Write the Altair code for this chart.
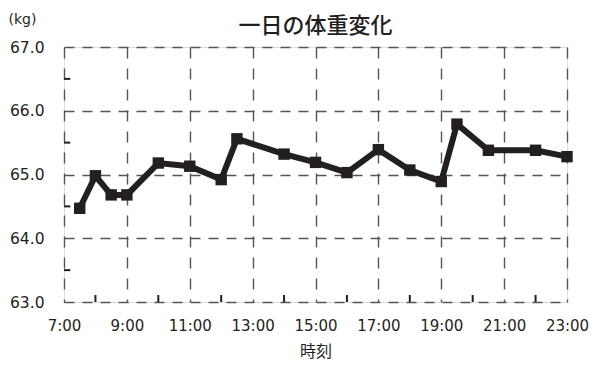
import altair as alt
import pandas as pd

# ---- data ----
times = ["7:30", "8:00", "8:30", "9:00", "10:00", "11:00", "12:00", "12:30",
         "14:00", "15:00", "16:00", "17:00", "18:00", "19:00", "19:30",
         "20:30", "22:00", "23:00"]
weights = [64.47, 64.98, 64.68, 64.68, 65.18, 65.13, 64.92, 65.56,
           65.32, 65.19, 65.03, 65.39, 65.07, 64.89, 65.79,
           65.38, 65.38, 65.28]
x_major = [7, 9, 11, 13, 15, 17, 19, 21, 23]
x_minor = [8, 10, 12, 14, 16, 18, 20, 22]
y_major = [63.0, 64.0, 65.0, 66.0, 67.0]
y_minor = [63.5, 64.5, 65.5, 66.5]

def to_hours(t):
    h, m = t.split(":")
    return int(h) + int(m) / 60.0

df = pd.DataFrame({"hour": [to_hours(t) for t in times], "weight": weights})
df_xminor = pd.DataFrame({"hour": x_minor, "y0": [63.0] * len(x_minor), "y1": [63.11] * len(x_minor)})
df_yminor = pd.DataFrame({"w": y_minor, "x0": [7.0] * len(y_minor), "x1": [7.2] * len(y_minor)})

FONT = "Noto Sans CJK JP"
NUMFONT = "DejaVu Sans"
INK = "#231f20"

xscale = alt.Scale(domain=[7, 23], nice=False, zero=False)
yscale = alt.Scale(domain=[63, 67], nice=False, zero=False)

xaxis = alt.Axis(values=x_major, labelExpr="datum.value + ':00'", ticks=False,
                 grid=True, gridDash=[11, 10], gridColor="#555555", gridWidth=1.4,
                 domain=False, labelFont=NUMFONT, labelFontSize=15, labelColor=INK,
                 labelPadding=16, title="時刻", titleFont=FONT, titleFontSize=16,
                 titleFontWeight="normal", titleColor=INK, titlePadding=10,
                 labelFlush=False, labelOverlap=False)
yaxis = alt.Axis(values=y_major, format=".1f", ticks=False,
                 grid=True, gridDash=[10, 8], gridColor="#555555", gridWidth=1.4,
                 domain=False, labelFont=NUMFONT, labelFontSize=15.5, labelColor=INK,
                 labelPadding=20, title="(kg)", titleFont=NUMFONT, titleFontSize=14,
                 titleFontWeight="normal", titleColor=INK, titleAngle=0,
                 titleAlign="left", titleBaseline="middle", titleX=-56, titleY=-28,
                 labelFlush=False, labelOverlap=False)

base = alt.Chart(df).encode(
    x=alt.X("hour:Q", scale=xscale, axis=xaxis),
    y=alt.Y("weight:Q", scale=yscale, axis=yaxis),
)
line = base.mark_line(color=INK, strokeWidth=6, strokeJoin="miter")
pts = base.mark_point(shape="square", filled=True, color=INK, size=130, opacity=1)

xt = alt.Chart(df_xminor).mark_rule(color=INK, strokeWidth=2).encode(
    x=alt.X("hour:Q", scale=xscale), y=alt.Y("y0:Q", scale=yscale), y2="y1:Q")
yt = alt.Chart(df_yminor).mark_rule(color=INK, strokeWidth=2).encode(
    y=alt.Y("w:Q", scale=yscale), x=alt.X("x0:Q", scale=xscale), x2="x1:Q")

chart = alt.layer(xt, yt, line, pts).properties(
    width=503, height=255,
    autosize="none",
    padding={"left": 56, "top": 39, "right": 22, "bottom": 58},
    title=alt.TitleParams("一日の体重変化", font=FONT, fontSize=22, fontWeight=500,
                          color=INK, anchor="middle", offset=0, dy=26),
).configure_view(stroke=INK, strokeWidth=1.5).configure(background="white")

chart.save("out.html", embed_options={"renderer": "svg", "actions": False})
